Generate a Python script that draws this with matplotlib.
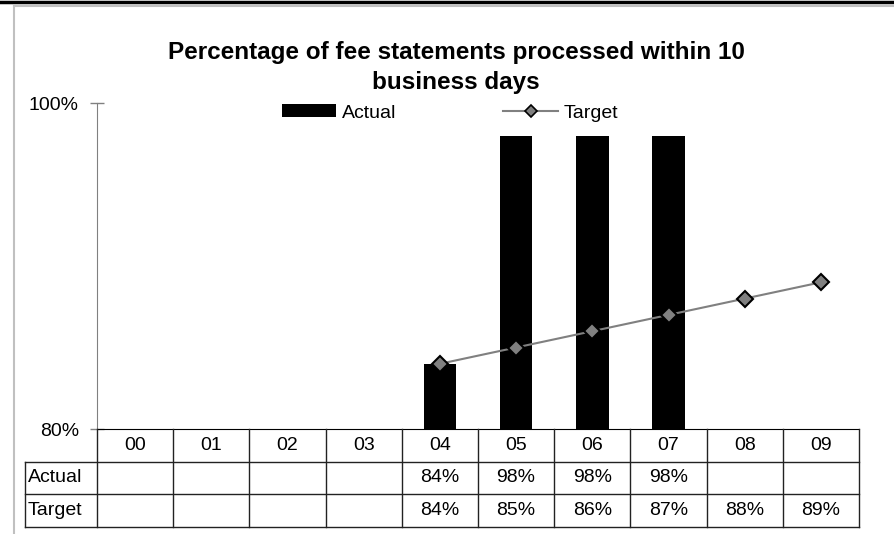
import numpy as np
import matplotlib
matplotlib.use("Agg")
import matplotlib.pyplot as plt
from matplotlib.lines import Line2D

plt.rcParams['font.family'] = ['Liberation Sans', 'DejaVu Sans']

categories = ['00', '01', '02', '03', '04', '05', '06', '07', '08', '09']
actual = [None, None, None, None, 84, 98, 98, 98, None, None]
target = [None, None, None, None, 84, 85, 86, 87, 88, 89]
row_names = ['Actual', 'Target']

W, H = 894, 534
fig = plt.figure(figsize=(W / 100, H / 100), dpi=100)

def fx(px):
    return px / W

def fy(py):
    return 1 - py / H

fs = 14

# main chart area
ax = fig.add_axes([fx(97), fy(429), fx(859) - fx(97), fy(103) - fy(429)])
x = np.arange(len(categories))
a_vals = np.array([np.nan if v is None else v for v in actual], dtype=float)
t_vals = np.array([np.nan if v is None else v for v in target], dtype=float)

bars = ax.bar(x, a_vals, width=0.43, color='black', label='Actual', zorder=2)
line, = ax.plot(x, t_vals, color='#808080', lw=1.5, marker='D', markersize=8,
                markerfacecolor='#808080', markeredgecolor='black', markeredgewidth=1.5,
                label='Target', zorder=3)

ax.set_xlim(-0.5, len(categories) - 0.5)
ax.set_ylim(80, 100)
ax.set_yticks([80, 100])
ax.set_yticklabels(['80%', '100%'], fontsize=fs)
ax.tick_params(axis='y', direction='inout', length=10, width=1, color='#808080', pad=8)
ax.set_xticks([])
for s in ['top', 'right']:
    ax.spines[s].set_visible(False)
ax.spines['left'].set_color('#808080')
ax.spines['bottom'].set_color('black')

# legend
leg_line = Line2D([], [], color='#808080', lw=1.5, marker='D', markersize=6,
                  markerfacecolor='#808080', markeredgecolor='black', markeredgewidth=1.2)
fig.legend([bars, leg_line], ['Actual', 'Target'], loc='center',
           bbox_to_anchor=(fx(450), fy(113)),
           ncol=2, frameon=False, fontsize=fs, handlelength=2.8, handleheight=0.62,
           handletextpad=0.3, columnspacing=5.5)

# title
fig.text(fx(456), fy(53), 'Percentage of fee statements processed within 10',
         ha='center', va='center', fontsize=17.5, fontweight='bold')
fig.text(fx(456), fy(83), 'business days',
         ha='center', va='center', fontsize=17.5, fontweight='bold')

# data table below the axis
tab = fig.add_axes([fx(97), fy(527), fx(859) - fx(97), fy(429) - fy(527)])
tab.set_xlim(-0.5, len(categories) - 0.5)
tab.set_ylim(0, 3)
tab.axis('off')
lab_left = -0.5 - 72 / 76.2
lc = '#222222'
for xb in np.arange(-0.5, len(categories), 1.0):
    tab.plot([xb, xb], [0, 3], color=lc, lw=1, clip_on=False)
tab.plot([lab_left, lab_left], [0, 2], color=lc, lw=1, clip_on=False)
for yb in [0, 1, 2]:
    tab.plot([lab_left, len(categories) - 0.5], [yb, yb], color=lc, lw=1, clip_on=False)
for i, c in enumerate(categories):
    tab.text(i, 2.5, c, ha='center', va='center', fontsize=fs)
for r, vals in enumerate([actual, target]):
    yc = 1.5 - r
    tab.text(lab_left + 0.04, yc, row_names[r], ha='left', va='center', fontsize=fs, clip_on=False)
    for i, v in enumerate(vals):
        if v is not None:
            tab.text(i, yc, f'{v}%', ha='center', va='center', fontsize=fs)

# chart border pieces
fig.add_artist(Line2D([0, 1], [fy(1.5), fy(1.5)], color='black', lw=2.5))
fig.add_artist(Line2D([fx(13.5), 1], [fy(5.5), fy(5.5)], color='#c0c0c0', lw=1.5))
fig.add_artist(Line2D([fx(13.5), fx(13.5)], [0, fy(5.5)], color='#c0c0c0', lw=1.5))

fig.savefig('out.png', dpi=100)
